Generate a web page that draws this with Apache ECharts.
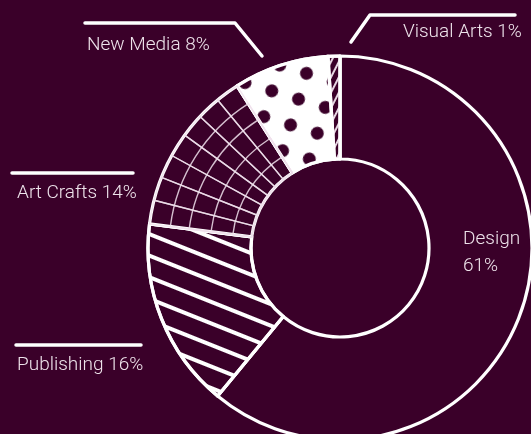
<!DOCTYPE html>
<html><head><meta charset="utf-8">
<script src="https://cdn.jsdelivr.net/npm/echarts@6/dist/echarts.min.js"></script>
<style>html,body{margin:0;padding:0;background:#3a0029;}#c{width:531px;height:434px;}</style>
</head><body><div id="c"></div>
<script>
const categories = ['Design', 'Publishing', 'Art Crafts', 'New Media', 'Visual Arts'];
const shares = [61, 16, 14, 8, 1];

const BG = '#3a0029', INK = '#ffffff', TXT = '#eee3eb', GRID = 'rgba(240,225,236,0.85)';
const CENTER = [340, 248], R_IN = 89, R_OUT = 192;
const ARC_RADII = [108, 130, 152, 171];
const RADIAL_SPLITS = 7;

const styles = {
  'Design': { color: BG },
  'Publishing': { color: BG, decal: { symbol: 'rect', color: INK, dashArrayX: [1, 0], dashArrayY: [3.5, 16], rotation: 0.38 } },
  'Art Crafts': { color: BG },
  'New Media': { color: INK, decal: { symbol: 'circle', color: BG, dashArrayX: [13, 15], dashArrayY: [13, 14], symbolSize: 1, rotation: 0.3 } },
  'Visual Arts': { color: BG, decal: { symbol: 'rect', color: '#e6d6e2', dashArrayX: [1, 0], dashArrayY: [1.2, 5], rotation: -1.1 } }
};
const labelPos = {
  'Design': [463, 253], 'Publishing': [17, 365], 'Art Crafts': [17, 193],
  'New Media': [87, 45], 'Visual Arts': [403, 32]
};

const mainData = categories.map((c, i) => ({
  name: c, value: shares[i],
  itemStyle: Object.assign({ borderColor: INK, borderWidth: 3.2, borderJoin: 'round' }, styles[c])
}));

function overlayBase(radius, data) {
  return {
    type: 'pie', center: CENTER, radius: radius, silent: true, animation: false,
    label: { show: false }, labelLine: { show: false }, emphasis: { disabled: true },
    data: data
  };
}
const radialData = [];
categories.forEach((c, i) => {
  if (c === 'Art Crafts') {
    for (let k = 0; k < RADIAL_SPLITS; k++) radialData.push({ name: c + k, value: shares[i] / RADIAL_SPLITS, itemStyle: { color: 'transparent', borderColor: GRID, borderWidth: 1.4 } });
  } else radialData.push({ name: c, value: shares[i], itemStyle: { color: 'transparent', borderWidth: 0 } });
});
const arcData = categories.map((c, i) => ({
  name: c, value: shares[i],
  itemStyle: c === 'Art Crafts' ? { color: 'transparent', borderColor: GRID, borderWidth: 1.4 } : { color: 'transparent', borderWidth: 0 }
}));

const lineStyle = { stroke: INK, lineWidth: 3.5, fill: null, lineCap: 'round', lineJoin: 'round' };

const chart = echarts.init(document.getElementById('c'), null, { renderer: 'canvas' });
chart.setOption({
  backgroundColor: BG,
  animation: false,
  series: [
    {
      type: 'pie', center: CENTER, radius: [R_IN, R_OUT], startAngle: 90, clockwise: true,
      animation: false, emphasis: { disabled: true }, avoidLabelOverlap: false,
      data: mainData,
      label: {
        show: true, color: TXT, fontFamily: 'Roboto', fontWeight: 300, fontSize: 19, lineHeight: 27,
        overflow: 'none', alignTo: 'none', edgeDistance: 0,
        formatter: p => p.name === 'Design' ? p.name + '\n' + Math.round(p.percent) + '%' : p.name + ' ' + Math.round(p.percent) + '%'
      },
      labelLine: { show: false },
      labelLayout: function (p) {
        const pos = labelPos[categories[p.dataIndex]];
        return { x: pos[0], y: pos[1], align: 'left', verticalAlign: 'middle', width: 200 };
      }
    },
    overlayBase([R_IN, R_OUT], radialData)
  ].concat(ARC_RADII.map(r => overlayBase([R_IN, r], arcData))),
  graphic: [
    { type: 'polyline', shape: { points: [[85, 23], [235, 23], [262, 56]] }, style: lineStyle },
    { type: 'polyline', shape: { points: [[515, 15], [370, 15], [351, 42]] }, style: lineStyle },
    { type: 'polyline', shape: { points: [[12, 173], [133, 173]] }, style: lineStyle },
    { type: 'polyline', shape: { points: [[16, 345], [141, 345]] }, style: lineStyle }
  ]
});
</script>
</body></html>
